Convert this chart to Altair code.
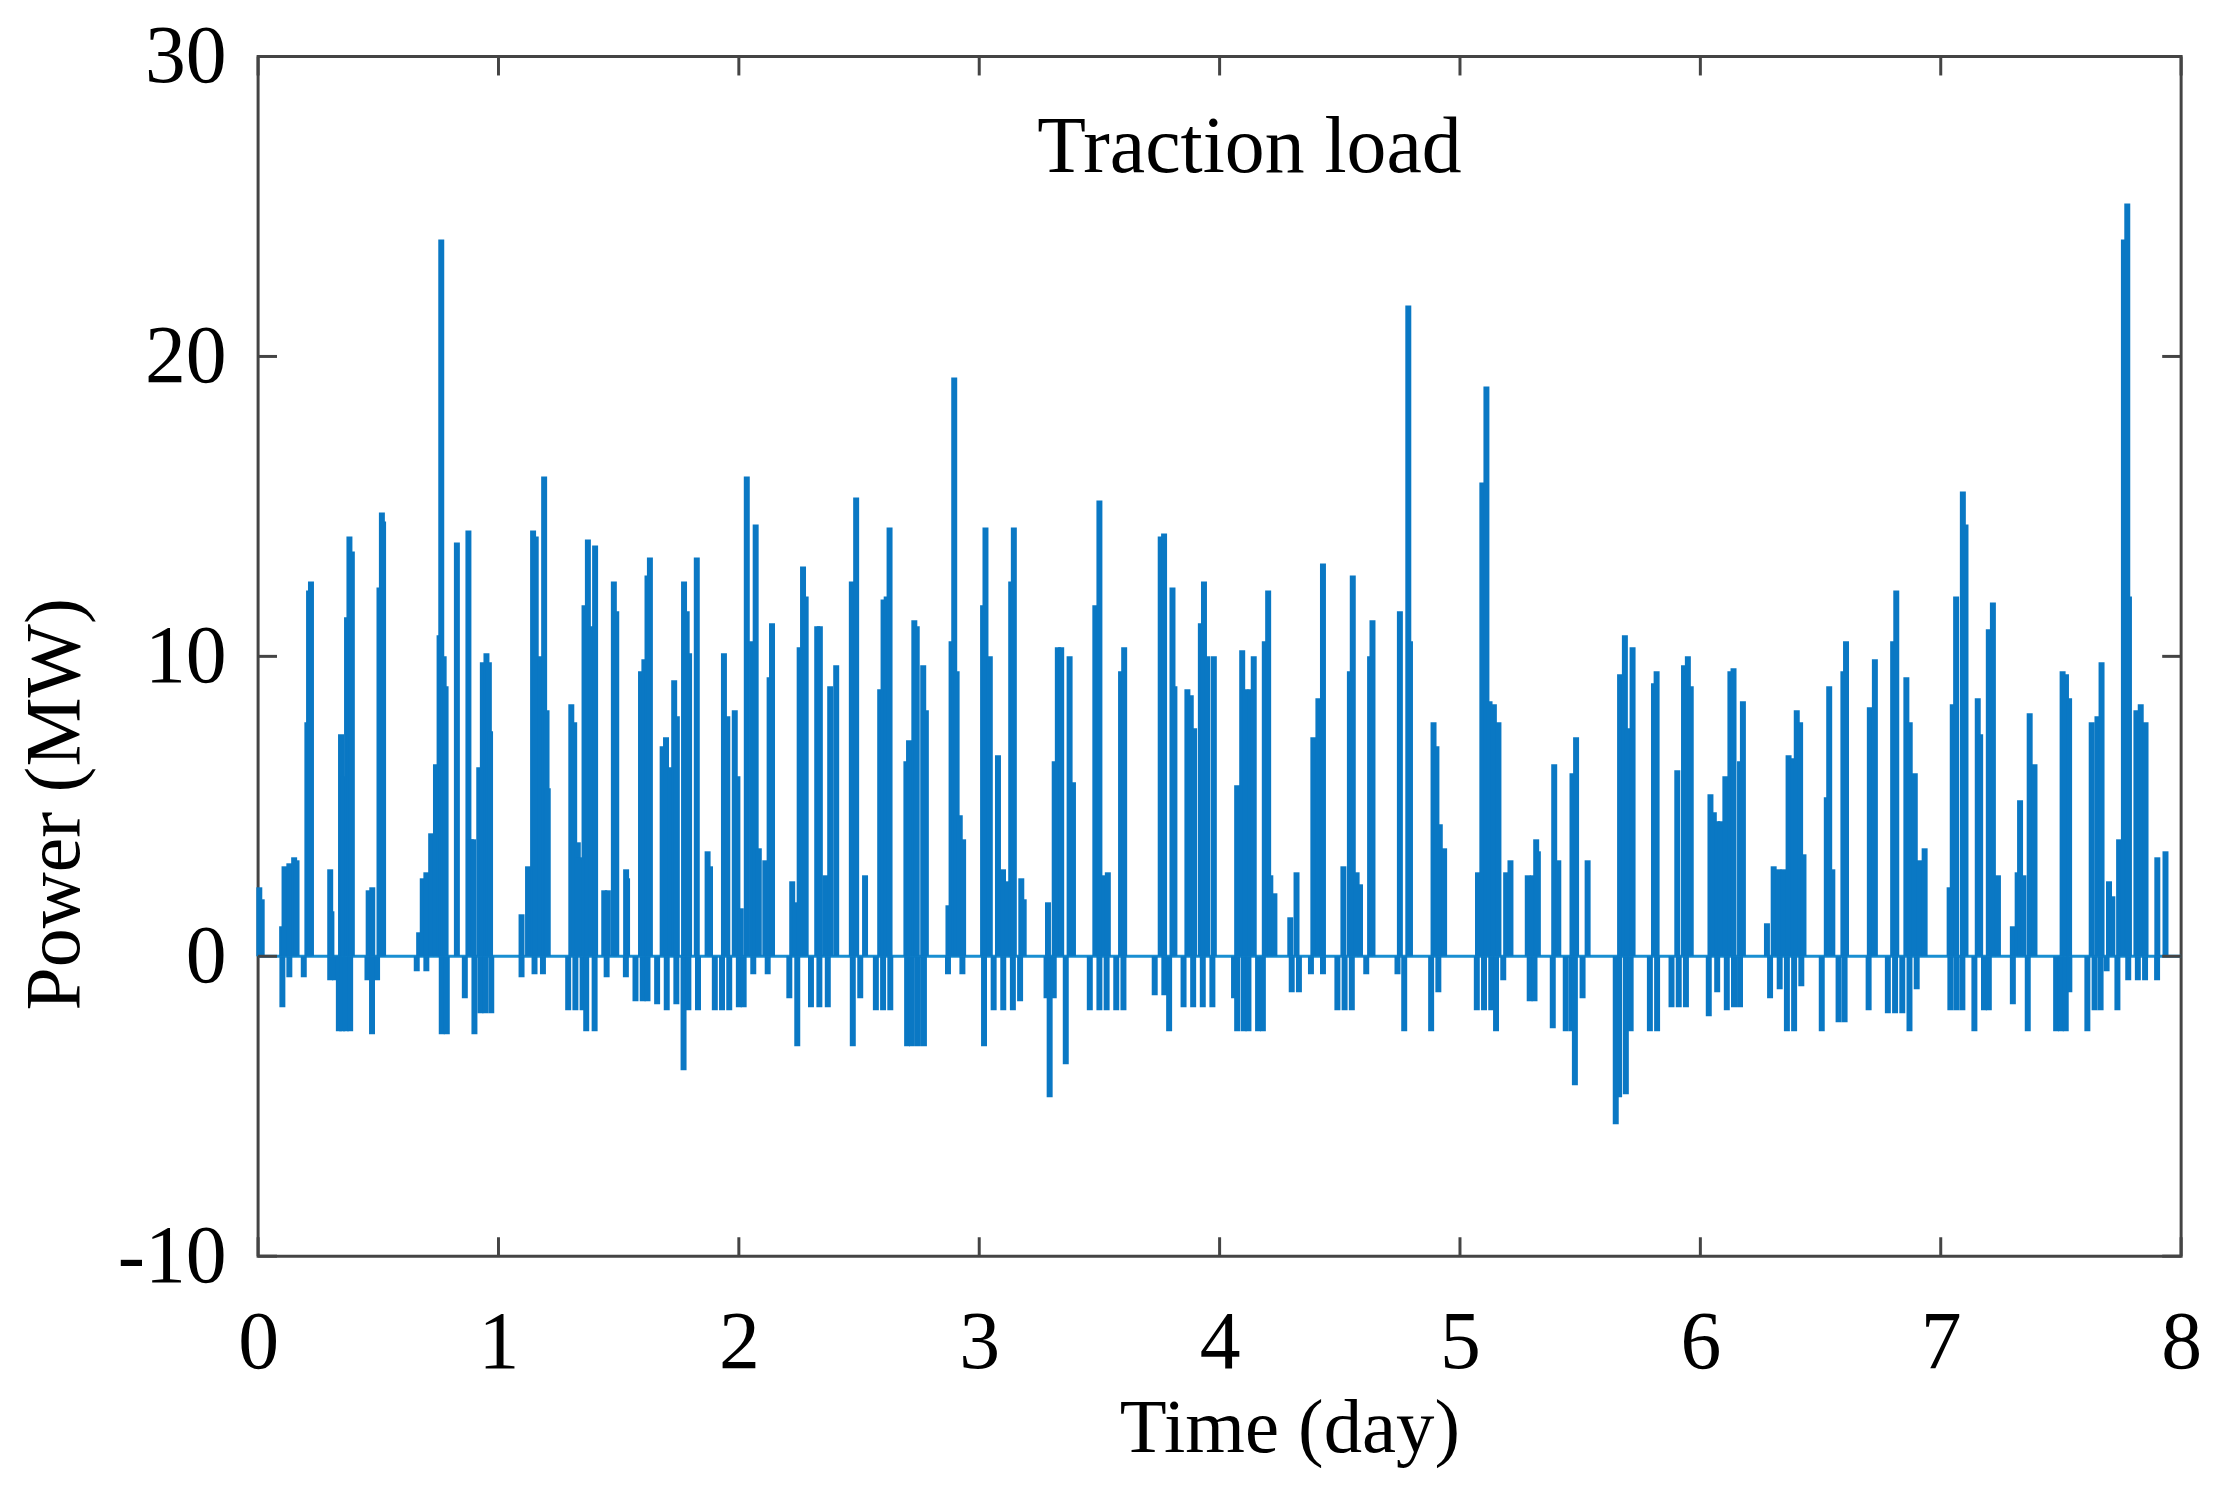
import altair as alt
import pandas as pd

# ---- data (time in days, power in MW) ----
up_day = [0.005, 0.015, 0.100, 0.110, 0.130, 0.150, 0.160, 0.205, 0.212, 0.220,
          0.300, 0.305, 0.345, 0.355, 0.370, 0.380, 0.390, 0.460, 0.475, 0.505,
          0.515, 0.520, 0.670, 0.685, 0.700, 0.720, 0.740, 0.755, 0.762, 0.772,
          0.780, 0.827, 0.875, 0.885, 0.895, 0.920, 0.935, 0.950, 0.960, 0.965,
          1.096, 1.123, 1.144, 1.155, 1.175, 1.190, 1.200, 1.205, 1.303, 1.315,
          1.330, 1.335, 1.358, 1.372, 1.385, 1.402, 1.440, 1.455, 1.480, 1.490,
          1.531, 1.535, 1.593, 1.607, 1.620, 1.630, 1.683, 1.697, 1.715, 1.731,
          1.742, 1.772, 1.783, 1.793, 1.825, 1.870, 1.880, 1.938, 1.952, 1.983,
          1.994,
          2.008, 2.033, 2.055, 2.070, 2.083, 2.110, 2.128, 2.138, 2.222, 2.235,
          2.253, 2.267, 2.278, 2.326, 2.337, 2.360, 2.380, 2.405, 2.470, 2.488,
          2.525, 2.588, 2.602, 2.615, 2.627, 2.697, 2.708, 2.730, 2.740, 2.767,
          2.778, 2.872, 2.885, 2.896, 2.906, 2.919, 2.933,
          3.016, 3.026, 3.044, 3.078, 3.099, 3.119, 3.133, 3.144, 3.175, 3.185,
          3.286, 3.314, 3.327, 3.341, 3.376, 3.390, 3.483, 3.500, 3.521, 3.535,
          3.590, 3.603, 3.755, 3.769, 3.804, 3.812, 3.866, 3.880, 3.894, 3.922,
          3.935, 3.949, 3.976,
          4.073, 4.094, 4.108, 4.128, 4.142, 4.188, 4.202, 4.211, 4.228, 4.294,
          4.320, 4.390, 4.411, 4.430, 4.515, 4.542, 4.554, 4.570, 4.584, 4.626,
          4.636, 4.750, 4.785, 4.792, 4.890, 4.902, 4.916, 4.934,
          5.075, 5.093, 5.110, 5.123, 5.141, 5.160, 5.192, 5.210, 5.282, 5.303,
          5.317, 5.324, 5.392, 5.409, 5.468, 5.483, 5.531, 5.666, 5.686, 5.697,
          5.718, 5.807, 5.818, 5.904, 5.932, 5.948, 5.960,
          6.042, 6.056, 6.070, 6.085, 6.104, 6.125, 6.138, 6.165, 6.177, 6.277,
          6.305, 6.325, 6.346, 6.367, 6.387, 6.401, 6.415, 6.429, 6.526, 6.536,
          6.549, 6.595, 6.606, 6.705, 6.726, 6.802, 6.815, 6.857, 6.871, 6.892,
          6.912, 6.933,
          7.037, 7.050, 7.064, 7.092, 7.103, 7.154, 7.164, 7.200, 7.217, 7.238,
          7.300, 7.320, 7.330, 7.344, 7.370, 7.390, 7.507, 7.521, 7.534, 7.628,
          7.652, 7.669, 7.700, 7.714, 7.742, 7.762, 7.776, 7.783, 7.814, 7.832,
          7.852, 7.901, 7.935]
up_mw = [2.3, 1.9, 1.0, 3.0, 3.1, 3.3, 3.2, 7.8, 12.2, 12.5,
         2.9, 1.5, 7.4, 6.0, 11.3, 14.0, 13.5, 2.2, 2.3, 12.3,
         14.8, 14.5, 0.8, 2.6, 2.8, 4.1, 6.4, 10.7, 23.9, 10.0,
         9.0, 13.8, 14.2, 3.9, 3.9, 6.3, 9.8, 10.1, 9.8, 7.5,
         1.4, 3.0, 14.2, 14.0, 10.0, 16.0, 8.2, 5.6, 8.4, 7.8,
         3.8, 3.3, 11.7, 13.9, 11.0, 13.7, 2.2, 2.2, 12.5, 11.5,
         2.9, 2.6, 9.5, 9.9, 12.7, 13.3, 7.0, 7.3, 6.3, 9.2,
         8.0, 12.5, 11.5, 10.1, 13.3, 3.5, 3.0, 10.1, 8.0, 8.2,
         6.0,
         1.6, 16.0, 10.5, 14.4, 3.6, 3.2, 9.3, 11.1, 2.5, 1.8,
         10.3, 13.0, 12.0, 11.0, 11.0, 2.7, 9.0, 9.7, 12.5, 15.3,
         2.7, 8.9, 11.9, 12.0, 14.3, 6.5, 7.2, 11.2, 11.0, 9.7,
         8.2, 1.7, 10.5, 19.3, 9.5, 4.7, 3.9,
         11.7, 14.3, 10.0, 6.7, 2.9, 2.5, 12.5, 14.3, 2.6, 1.9,
         1.8, 6.5, 10.3, 10.3, 10.0, 5.8, 11.7, 15.2, 2.7, 2.8,
         9.5, 10.3, 14.0, 14.1, 12.3, 9.0, 8.9, 8.7, 7.6, 11.1,
         12.5, 10.0, 10.0,
         5.7, 10.2, 8.9, 8.9, 10.0, 10.5, 12.2, 2.7, 2.1, 1.3,
         2.8, 7.3, 8.6, 13.1, 3.0, 9.5, 12.7, 2.8, 2.4, 10.0,
         11.2, 11.5, 21.7, 10.5, 7.8, 7.0, 4.4, 3.6,
         2.8, 15.8, 19.0, 8.5, 8.4, 7.8, 2.8, 3.2, 2.7, 2.7,
         3.9, 3.5, 6.4, 3.2, 6.1, 7.3, 3.2, 9.4, 10.7, 7.6,
         10.3, 9.1, 9.5, 6.2, 9.7, 10.0, 9.0,
         5.4, 4.8, 4.5, 4.5, 6.0, 9.5, 9.6, 6.5, 8.5, 1.1,
         3.0, 2.9, 2.9, 6.7, 6.6, 8.2, 7.8, 3.4, 5.3, 9.0,
         2.9, 9.5, 10.5, 8.3, 9.9, 10.5, 12.2, 9.3, 7.8, 6.1,
         3.2, 3.6,
         2.3, 8.4, 12.0, 15.5, 14.4, 8.6, 7.4, 10.9, 11.8, 2.7,
         1.0, 2.8, 5.2, 2.7, 8.1, 6.4, 9.5, 9.4, 8.6, 7.8,
         8.0, 9.8, 2.5, 2.0, 3.9, 23.9, 25.1, 12.0, 8.2, 8.4,
         7.8, 3.3, 3.5]

down_day = [0.101, 0.130, 0.190, 0.300, 0.320, 0.336, 0.350, 0.365, 0.383, 0.455,
            0.474, 0.495, 0.660, 0.700, 0.764, 0.785, 0.860, 0.900, 0.925, 0.945,
            0.970, 1.096, 1.150, 1.185, 1.290, 1.320, 1.350, 1.365, 1.400, 1.450,
            1.530, 1.570, 1.600, 1.620, 1.660, 1.700, 1.740, 1.770, 1.790, 1.830,
            1.900, 1.930, 1.960, 2.000, 2.020, 2.060, 2.120, 2.210, 2.243, 2.300,
            2.335, 2.370, 2.474, 2.505, 2.570, 2.600, 2.630, 2.700, 2.720, 2.745,
            2.770, 2.870, 2.930, 3.020, 3.060, 3.100, 3.140, 3.170, 3.280, 3.293,
            3.310, 3.360, 3.460, 3.500, 3.530, 3.570, 3.600, 3.730, 3.770, 3.790,
            3.850, 3.890, 3.930, 3.970, 4.060, 4.073, 4.100, 4.120, 4.160, 4.180,
            4.300, 4.330, 4.380, 4.430, 4.490, 4.520, 4.550, 4.610, 4.740, 4.768,
            4.880, 4.910, 5.070, 5.100, 5.130, 5.150, 5.180, 5.290, 5.310, 5.386,
            5.440, 5.465, 5.478, 5.510, 5.648, 5.662, 5.690, 5.710, 5.790, 5.820,
            5.880, 5.910, 5.940, 6.035, 6.070, 6.110, 6.140, 6.165, 6.290, 6.330,
            6.360, 6.390, 6.420, 6.505, 6.575, 6.600, 6.700, 6.780, 6.810, 6.840,
            6.870, 6.900, 7.040, 7.065, 7.090, 7.140, 7.180, 7.200, 7.300, 7.362,
            7.480, 7.500, 7.520, 7.535, 7.610, 7.640, 7.665, 7.690, 7.735, 7.780,
            7.820, 7.850, 7.900]
down_mw = [-1.7, -0.7, -0.7, -0.8, -0.8, -2.5, -2.5, -2.5, -2.5, -0.8,
           -2.6, -0.8, -0.5, -0.5, -2.6, -2.6, -1.4, -2.6, -1.9, -1.9,
           -1.9, -0.7, -0.6, -0.6, -1.8, -1.8, -1.8, -2.5, -2.5, -0.7,
           -0.7, -1.5, -1.5, -1.5, -1.6, -1.8, -1.6, -3.8, -1.8, -1.8,
           -1.8, -1.8, -1.8, -1.7, -1.7, -0.6, -0.6, -1.4, -3.0, -1.7,
           -1.7, -1.7, -3.0, -1.4, -1.8, -1.8, -1.8, -3.0, -3.0, -3.0,
           -3.0, -0.6, -0.6, -3.0, -1.8, -1.8, -1.8, -1.5, -1.4, -4.7,
           -1.4, -3.6, -1.8, -1.8, -1.8, -1.8, -1.8, -1.3, -1.3, -2.5,
           -1.7, -1.7, -1.7, -1.7, -1.4, -2.5, -2.5, -2.5, -2.5, -2.5,
           -1.2, -1.2, -0.6, -0.6, -1.8, -1.8, -1.8, -0.6, -0.6, -2.5,
           -2.5, -1.2, -1.8, -1.8, -1.8, -2.5, -0.8, -1.5, -1.5, -2.4,
           -2.5, -2.5, -4.3, -1.4, -5.6, -4.7, -4.6, -2.5, -2.5, -2.5,
           -1.7, -1.7, -1.7, -2.0, -1.2, -1.8, -1.7, -1.7, -1.4, -1.1,
           -2.5, -2.5, -1.0, -2.5, -2.2, -2.2, -1.8, -1.9, -1.9, -1.9,
           -2.5, -1.1, -1.8, -1.8, -1.8, -2.5, -1.8, -1.8, -1.6, -2.5,
           -2.5, -2.5, -2.5, -1.2, -2.5, -1.8, -1.8, -0.5, -1.8, -0.8,
           -0.8, -0.8, -0.8]

x_ticks = [0, 1, 2, 3, 4, 5, 6, 7, 8]
y_ticks = [-10, 0, 10, 20, 30]
x_range = [0, 8]
y_range = [-10, 30]
panel_label = ["Traction load"]

# ---- styling ----
W, H = 1930, 1204
BLUE = "#0a78c4"
LIGHT = "#1a8fd2"
FRAME = "#444444"
FONT = "Liberation Serif"
TICK_LEN = 19

xs = alt.Scale(domain=x_range, nice=False, zero=False)
ys = alt.Scale(domain=y_range, nice=False, zero=False)

spikes = pd.DataFrame({"day": up_day + down_day, "mw": up_mw + down_mw})
spikes["base"] = 0.0
base_df = pd.DataFrame({"d0": [x_range[0]], "d1": [x_range[1]], "p": [0.0]})
xt_df = pd.DataFrame({"t": x_ticks})
yt_df = pd.DataFrame({"v": y_ticks})
label_df = pd.DataFrame({"label": panel_label})

x_axis = alt.Axis(values=x_ticks, labelExpr="'' + datum.value", labelFont=FONT,
                  labelFontSize=82, labelColor="black", labelPadding=112,
                  labelBaseline="alphabetic", labelFlush=False, labelOverlap=False,
                  ticks=False, tickSize=0, domain=False, grid=False,
                  title="Time (day)", titleFont=FONT, titleFontSize=77,
                  titleFontWeight="normal", titleColor="black", titleX=1035,
                  titleY=196, titleAlign="center", titleBaseline="alphabetic")
y_axis = alt.Axis(values=y_ticks, labelExpr="'' + datum.value", labelFont=FONT,
                  labelFontSize=82, labelColor="black", labelPadding=32,
                  labelFlush=False, labelOverlap=False,
                  ticks=False, tickSize=0, domain=False, grid=False,
                  title="Power (MW)", titleFont=FONT, titleFontSize=78,
                  titleFontWeight="normal", titleColor="black", titleAngle=270,
                  titleX=-180, titleY=750, titleAlign="center",
                  titleBaseline="alphabetic")

baseline = alt.Chart(base_df).mark_rule(color=LIGHT, strokeWidth=3).encode(
    x=alt.X("d0:Q", scale=xs, axis=x_axis),
    x2="d1:Q",
    y=alt.Y("p:Q", scale=ys, axis=y_axis),
)

bars = alt.Chart(spikes).mark_rule(color=BLUE, strokeWidth=6).encode(
    x=alt.X("day:Q", scale=xs),
    y=alt.Y("mw:Q", scale=ys),
    y2="base:Q",
)

tick_style = dict(color=FRAME, strokeWidth=3)
bottom_ticks = alt.Chart(xt_df).mark_rule(**tick_style).encode(
    x=alt.X("t:Q", scale=xs), y=alt.value(H), y2=alt.value(H - TICK_LEN))
top_ticks = alt.Chart(xt_df).mark_rule(**tick_style).encode(
    x=alt.X("t:Q", scale=xs), y=alt.value(0), y2=alt.value(TICK_LEN))
left_ticks = alt.Chart(yt_df).mark_rule(**tick_style).encode(
    y=alt.Y("v:Q", scale=ys), x=alt.value(0), x2=alt.value(TICK_LEN))
right_ticks = alt.Chart(yt_df).mark_rule(**tick_style).encode(
    y=alt.Y("v:Q", scale=ys), x=alt.value(W), x2=alt.value(W - TICK_LEN))

panel_title = alt.Chart(label_df).mark_text(
    font=FONT, fontSize=80, color="black", align="center", baseline="alphabetic"
).encode(text="label:N", x=alt.value(995), y=alt.value(116))

chart = alt.layer(
    baseline, bars, bottom_ticks, top_ticks, left_ticks, right_ticks, panel_title
).properties(
    width=W,
    height=H,
    background="white",
    autosize=alt.AutoSizeParams(type="none"),
    padding={"left": 251, "top": 46, "right": 32, "bottom": 245},
).configure_view(
    stroke=FRAME, strokeWidth=3
)

chart.save("out.html", embed_options={"renderer": "svg", "actions": False})
